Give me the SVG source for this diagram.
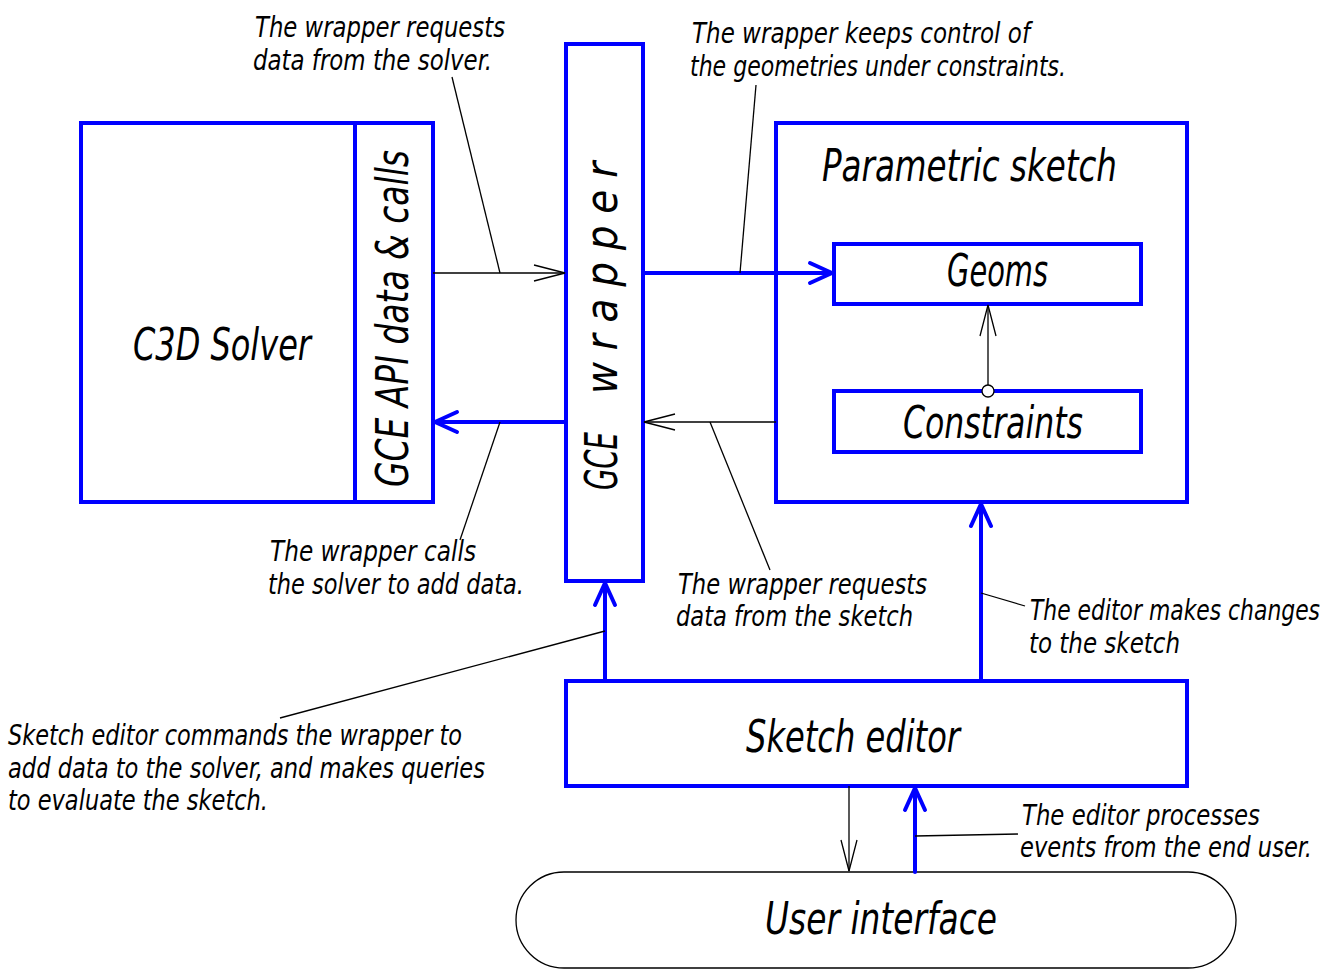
<svg xmlns="http://www.w3.org/2000/svg" width="1336" height="970" viewBox="0 0 1336 970">
<defs>
<style>
.box{fill:none;stroke:#0000ff;stroke-width:4}
.thick{fill:none;stroke:#0000ff;stroke-width:4;stroke-linecap:round}
.thin{fill:none;stroke:#000;stroke-width:1.3}
text{font-family:"Liberation Sans Narrow","DejaVu Sans Condensed","Liberation Sans",sans-serif;font-style:italic;fill:#000}
.ann{font-size:29px}
.big{font-size:44px}
</style>
<marker id="ab" markerUnits="userSpaceOnUse" markerWidth="30" markerHeight="30" viewBox="-26 -14 30 28" refX="0" refY="0" orient="auto">
<path d="M-22,-10 L0,0 L-22,10" fill="none" stroke="#0000ff" stroke-width="4" stroke-linecap="round" stroke-linejoin="round"/>
</marker>
<marker id="at" markerUnits="userSpaceOnUse" markerWidth="36" markerHeight="20" viewBox="-33 -10 36 20" refX="0" refY="0" orient="auto">
<path d="M-31,-8 L0,0 L-31,8" fill="none" stroke="#000" stroke-width="1.3"/>
</marker>
</defs>
<rect width="1336" height="970" fill="#fff"/>

<g id="solver">
<rect class="box" x="81" y="123" width="352" height="379"/>
<line class="box" x1="355" y1="123" x2="355" y2="502"/>
<text class="big" x="133" y="360" textLength="178" lengthAdjust="spacingAndGlyphs">C3D Solver</text>
<text class="big" transform="translate(408,487) rotate(-90)" x="0" y="0" textLength="337" lengthAdjust="spacingAndGlyphs">GCE API data &amp; calls</text>
</g>

<g id="wrapper">
<rect class="box" x="566" y="44" width="77" height="537"/>
<text class="big" transform="translate(617,490) rotate(-90)" x="0" y="0" textLength="58" lengthAdjust="spacingAndGlyphs">GCE</text>
<text class="big" transform="translate(617,394) rotate(-90)" x="0" y="0" style="letter-spacing:12px" textLength="244" lengthAdjust="spacingAndGlyphs">wrapper</text>
</g>

<g id="sketch">
<rect class="box" x="776" y="123" width="411" height="379"/>
<text class="big" x="822" y="181" textLength="295" lengthAdjust="spacingAndGlyphs">Parametric sketch</text>
</g>

<g id="geoms">
<rect class="box" x="834" y="244" width="307" height="60"/>
<text class="big" x="947" y="286" textLength="101" lengthAdjust="spacingAndGlyphs">Geoms</text>
</g>

<g id="constraints">
<rect class="box" x="834" y="391" width="307" height="61"/>
<text class="big" x="903" y="438" textLength="180" lengthAdjust="spacingAndGlyphs">Constraints</text>
</g>

<g id="editor">
<rect class="box" x="566" y="681" width="621" height="105"/>
<text class="big" x="746" y="752" textLength="214" lengthAdjust="spacingAndGlyphs">Sketch editor</text>
</g>

<g id="ui">
<path class="thin" d="M564,872 L1188,872 A48,48 0 0 1 1188,968 L564,968 A48,48 0 0 1 564,872 Z"/>
<text class="big" x="765" y="934" textLength="232" lengthAdjust="spacingAndGlyphs">User interface</text>
</g>

<g id="connectors">
<line class="thin" x1="433" y1="273" x2="565" y2="273" marker-end="url(#at)"/>
<line class="thick" x1="643" y1="273" x2="832" y2="273" marker-end="url(#ab)"/>
<line class="thin" x1="776" y1="422" x2="644" y2="422" marker-end="url(#at)"/>
<line class="thick" x1="566" y1="422" x2="435" y2="422" marker-end="url(#ab)"/>
<line class="thin" x1="988" y1="385" x2="988" y2="305" marker-end="url(#at)"/>
<circle cx="988" cy="391" r="6" fill="#fff" stroke="#000" stroke-width="1.3"/>
<line class="thick" x1="605" y1="681" x2="605" y2="583" marker-end="url(#ab)"/>
<line class="thick" x1="981" y1="681" x2="981" y2="504" marker-end="url(#ab)"/>
<line class="thin" x1="849" y1="786" x2="849" y2="871" marker-end="url(#at)"/>
<line class="thick" x1="915" y1="872" x2="915" y2="788" marker-end="url(#ab)"/>
</g>

<g id="annotations">
<path class="thin" d="M452,77 L500,273"/>
<text class="ann" x="255" y="37" textLength="250" lengthAdjust="spacingAndGlyphs">The wrapper requests</text>
<text class="ann" x="253" y="70" textLength="239" lengthAdjust="spacingAndGlyphs">data from the solver.</text>

<path class="thin" d="M756,85 L740,273"/>
<text class="ann" x="692" y="43" textLength="338" lengthAdjust="spacingAndGlyphs">The wrapper keeps control of</text>
<text class="ann" x="690" y="76" textLength="376" lengthAdjust="spacingAndGlyphs">the geometries under constraints.</text>

<path class="thin" d="M460,540 L500,422"/>
<text class="ann" x="270" y="561" textLength="206" lengthAdjust="spacingAndGlyphs">The wrapper calls</text>
<text class="ann" x="268" y="594" textLength="256" lengthAdjust="spacingAndGlyphs">the solver to add data.</text>

<path class="thin" d="M770,570 L710,422"/>
<text class="ann" x="678" y="594" textLength="249" lengthAdjust="spacingAndGlyphs">The wrapper requests</text>
<text class="ann" x="676" y="626" textLength="237" lengthAdjust="spacingAndGlyphs">data from the sketch</text>

<path class="thin" d="M1025,606 L981,593"/>
<text class="ann" x="1030" y="620" textLength="290" lengthAdjust="spacingAndGlyphs">The editor makes changes</text>
<text class="ann" x="1029" y="653" textLength="151" lengthAdjust="spacingAndGlyphs">to the sketch</text>

<path class="thin" d="M280,718 L605,631"/>
<text class="ann" x="8" y="745" textLength="454" lengthAdjust="spacingAndGlyphs">Sketch editor commands the wrapper to</text>
<text class="ann" x="8" y="778" textLength="477" lengthAdjust="spacingAndGlyphs">add data to the solver, and makes queries</text>
<text class="ann" x="8" y="810" textLength="260" lengthAdjust="spacingAndGlyphs">to evaluate the sketch.</text>

<path class="thin" d="M915,836 L1018,834"/>
<text class="ann" x="1022" y="825" textLength="238" lengthAdjust="spacingAndGlyphs">The editor processes</text>
<text class="ann" x="1020" y="857" textLength="292" lengthAdjust="spacingAndGlyphs">events from the end user.</text>
</g>
</svg>
